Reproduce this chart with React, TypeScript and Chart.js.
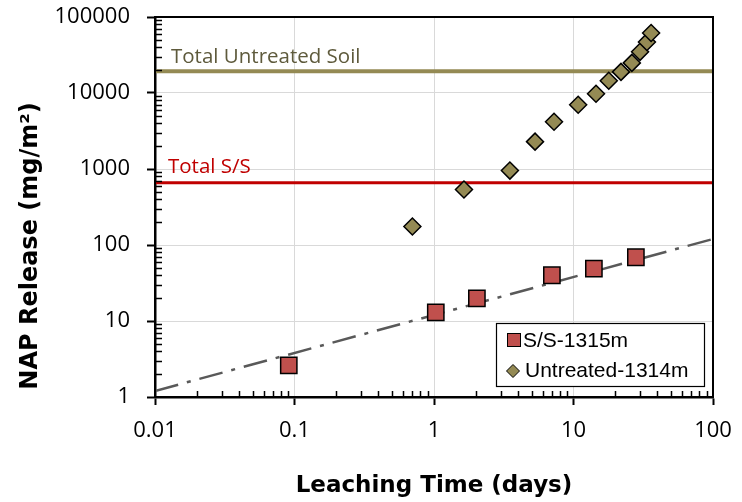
import React, { useEffect, useRef } from 'react';
import { Chart, registerables } from 'chart.js';

Chart.register(...registerables);

// ---- data ----
const ssTime = [0.091, 1.03, 2.03, 7.0, 14.0, 28.0];
const ssRelease = [2.6, 13, 19.9, 40, 49, 69];
const untreatedTime = [0.7, 1.64, 3.5, 5.3, 7.25, 10.8, 14.5, 17.9, 21.9, 26.2, 30, 33.6, 36];
const untreatedRelease = [175, 537, 953, 2290, 4190, 7000, 9770, 14500, 18960, 24900, 34800, 47000, 61600];
const trendTime = [0.01, 100];
const trendRelease = [1.2, 120];
const totalUntreatedSoil = 19300;
const totalSS = 660;
const xTickLabels = ['0.01', '0.1', '1', '10', '100'];
const yTickLabels = ['1', '10', '100', '1000', '10000', '100000'];
const seriesNames = ['S/S-1315m', 'Untreated-1314m'];
const refNames = ['Total Untreated Soil', 'Total S/S'];

const xMin = Number(xTickLabels[0]);
const xMax = Number(xTickLabels[xTickLabels.length - 1]);
const yMin = Number(yTickLabels[0]);
const yMax = Number(yTickLabels[yTickLabels.length - 1]);

const isMajor = (v: number) => {
  const l = Math.log10(v);
  return Math.abs(l - Math.round(l)) < 1e-9;
};

const buildLogTicks = (min: number, max: number) => {
  const out: { value: number }[] = [];
  const e0 = Math.round(Math.log10(min));
  const e1 = Math.round(Math.log10(max));
  for (let e = e0; e < e1; e++) {
    for (let k = 1; k <= 9; k++) {
      out.push({ value: Number((k * Math.pow(10, e)).toPrecision(8)) });
    }
  }
  out.push({ value: max });
  return out;
};

const labelFor = (labels: string[], v: number) => {
  const f = labels.find((l) => Math.abs(Number(l) - v) / v < 1e-6);
  return f ?? '';
};

const TRANSPARENT = 'rgba(0,0,0,0)';

const decorPlugin = {
  id: 'decor',
  afterDatasetsDraw(chart: any) {
    const { ctx, chartArea: a, scales } = chart;
    const ys = scales.y;
    ctx.save();
    ctx.font = '20.5px "Open Sans"';
    ctx.textBaseline = 'alphabetic';
    ctx.textAlign = 'left';
    ctx.fillStyle = '#5E5A3C';
    ctx.fillText(refNames[0], a.left + 16, ys.getPixelForValue(totalUntreatedSoil) - 8);
    ctx.fillStyle = '#C00000';
    ctx.fillText(refNames[1], a.left + 13, ys.getPixelForValue(totalSS) - 10);
    ctx.restore();
  },
  afterDraw(chart: any) {
    const { ctx, chartArea: a, scales } = chart;
    const xs = scales.x;
    const ys = scales.y;
    ctx.save();
    ctx.strokeStyle = '#000';
    ctx.lineWidth = 2;
    ctx.strokeRect(a.left, a.top, a.right - a.left, a.bottom - a.top);
    ctx.lineWidth = 1.5;
    ctx.beginPath();
    for (const t of xs.ticks) {
      if (!isMajor(t.value)) {
        const px = Math.round(xs.getPixelForValue(t.value)) + 0.5;
        ctx.moveTo(px, a.bottom);
        ctx.lineTo(px, a.bottom - 6);
      }
    }
    for (const t of ys.ticks) {
      if (!isMajor(t.value)) {
        const py = Math.round(ys.getPixelForValue(t.value)) + 0.5;
        ctx.moveTo(a.left, py);
        ctx.lineTo(a.left + 7, py);
      }
    }
    ctx.stroke();

    // legend
    const lx = a.right - 217;
    const ly = a.bottom - 74;
    ctx.fillStyle = '#fff';
    ctx.fillRect(lx, ly, 208, 63);
    ctx.strokeStyle = '#000';
    ctx.lineWidth = 1.2;
    ctx.strokeRect(lx + 0.5, ly + 0.5, 208, 63);
    ctx.fillStyle = '#C0504D';
    ctx.fillRect(lx + 11, ly + 10, 13, 13);
    ctx.lineWidth = 1;
    ctx.strokeRect(lx + 11.5, ly + 10.5, 13, 13);
    ctx.fillStyle = '#000';
    ctx.font = '21px "Liberation Sans"';
    ctx.textAlign = 'left';
    ctx.textBaseline = 'alphabetic';
    ctx.fillText(seriesNames[0], lx + 27, ly + 24);
    const dx = lx + 17;
    const dy = ly + 48;
    ctx.beginPath();
    ctx.moveTo(dx - 6.5, dy);
    ctx.lineTo(dx, dy - 6.5);
    ctx.lineTo(dx + 6.5, dy);
    ctx.lineTo(dx, dy + 6.5);
    ctx.closePath();
    ctx.fillStyle = '#948A54';
    ctx.fill();
    ctx.strokeStyle = '#000';
    ctx.stroke();
    ctx.fillStyle = '#000';
    ctx.fillText(seriesNames[1], lx + 29, ly + 54);

    // axis titles
    ctx.font = 'bold 23px "DejaVu Sans"';
    ctx.fillStyle = '#000';
    ctx.textAlign = 'center';
    ctx.textBaseline = 'middle';
    ctx.fillText('Leaching Time (days)', (a.left + a.right) / 2, 486);
    ctx.font = 'bold 24px "DejaVu Sans"';
    ctx.translate(31, 246);
    ctx.rotate(-Math.PI / 2);
    ctx.fillText('NAP Release (mg/m²)', 0, 0);
    ctx.restore();
  },
};

export default function App() {
  const ref = useRef<HTMLCanvasElement | null>(null);

  useEffect(() => {
    if (!ref.current) return;
    const chart = new Chart(ref.current, {
      type: 'scatter',
      data: {
        datasets: [
          {
            label: refNames[0],
            data: [
              { x: xMin, y: totalUntreatedSoil },
              { x: xMax, y: totalUntreatedSoil },
            ],
            showLine: true,
            borderColor: '#948A54',
            borderWidth: 4,
            pointRadius: 0,
            order: 5,
          },
          {
            label: refNames[1],
            data: [
              { x: xMin, y: totalSS },
              { x: xMax, y: totalSS },
            ],
            showLine: true,
            borderColor: '#C00000',
            borderWidth: 3,
            pointRadius: 0,
            order: 5,
          },
          {
            label: 'trend',
            data: trendTime.map((x, i) => ({ x, y: trendRelease[i] })),
            showLine: true,
            borderColor: '#595959',
            borderWidth: 2.5,
            borderDash: [24, 9, 4, 9],
            pointRadius: 0,
            order: 4,
          },
          {
            label: seriesNames[0],
            data: ssTime.map((x, i) => ({ x, y: ssRelease[i] })),
            pointStyle: 'rect',
            pointRadius: 11.5,
            backgroundColor: '#C0504D',
            borderColor: '#000',
            borderWidth: 1.5,
            order: 2,
          },
          {
            label: seriesNames[1],
            data: untreatedTime.map((x, i) => ({ x, y: untreatedRelease[i] })),
            pointStyle: 'rectRot',
            pointRadius: 8.5,
            backgroundColor: '#948A54',
            borderColor: '#000',
            borderWidth: 1.5,
            order: 1,
          },
        ],
      },
      options: {
        animation: false,
        responsive: false,
        layout: { padding: { top: 17, right: 29, left: 0, bottom: 0 } },
        plugins: {
          legend: { display: false },
          tooltip: { enabled: false },
          title: { display: false },
        },
        scales: {
          x: {
            type: 'logarithmic',
            min: xMin,
            max: xMax,
            afterBuildTicks: (s: any) => {
              s.ticks = buildLogTicks(xMin, xMax);
            },
            afterFit: (s: any) => {
              s.height = 105;
              s.paddingLeft = 0;
              s.paddingRight = 0;
              s.paddingTop = 0;
              s.paddingBottom = 0;
            },
            border: { display: true, color: '#000', width: 2.5 },
            grid: {
              color: (c: any) => (c.tick && isMajor(c.tick.value) ? '#D9D9D9' : TRANSPARENT),
              tickColor: (c: any) => (c.tick && isMajor(c.tick.value) ? '#000' : TRANSPARENT),
              tickLength: 8,
              tickWidth: 2,
              lineWidth: 1,
            },
            ticks: {
              autoSkip: false,
              maxRotation: 0,
              padding: 13,
              color: '#000',
              font: { family: '"Open Sans"', size: 22 },
              callback: (v: any) => labelFor(xTickLabels, Number(v)),
            },
          },
          y: {
            type: 'logarithmic',
            min: yMin,
            max: yMax,
            afterBuildTicks: (s: any) => {
              s.ticks = buildLogTicks(yMin, yMax);
            },
            afterFit: (s: any) => {
              s.width = 155;
              s.paddingLeft = 0;
              s.paddingRight = 0;
              s.paddingTop = 0;
              s.paddingBottom = 0;
            },
            border: { display: true, color: '#000', width: 2.5 },
            grid: {
              color: (c: any) => (c.tick && isMajor(c.tick.value) ? '#D9D9D9' : TRANSPARENT),
              tickColor: (c: any) => (c.tick && isMajor(c.tick.value) ? '#000' : TRANSPARENT),
              tickLength: 8,
              tickWidth: 2,
              lineWidth: 1,
            },
            ticks: {
              autoSkip: false,
              padding: 17,
              color: '#000',
              font: { family: '"Open Sans"', size: 22 },
              callback: (v: any) => labelFor(yTickLabels, Number(v)),
            },
          },
        },
      },
      plugins: [decorPlugin],
    } as any);
    return () => chart.destroy();
  }, []);

  return (
    <div style={{ position: 'absolute', left: 0, top: 0, width: 742, height: 502, background: '#fff' }}>
      <canvas ref={ref} width={742} height={502} style={{ display: 'block' }} />
    </div>
  );
}
